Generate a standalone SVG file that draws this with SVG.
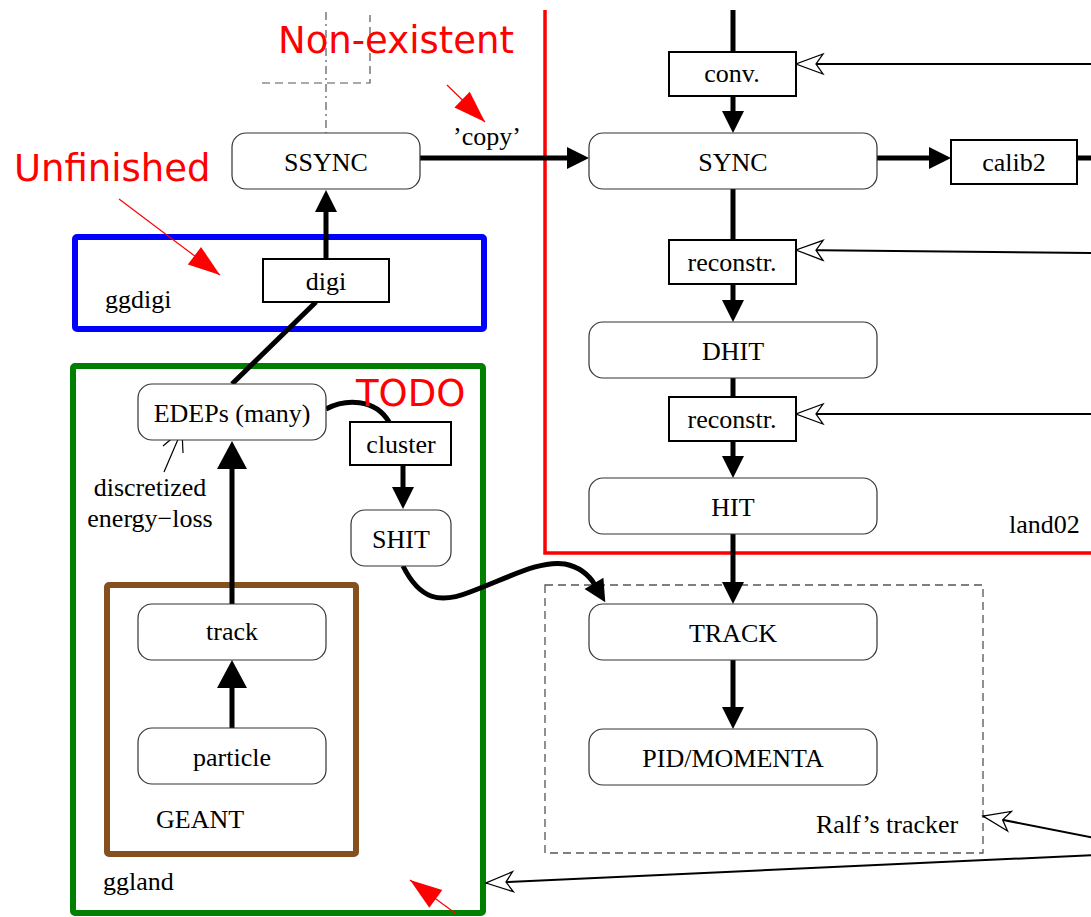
<svg xmlns="http://www.w3.org/2000/svg" width="1091" height="917" viewBox="0 0 1091 917">
<style>
.t{font-family:"Liberation Serif","Times New Roman",serif;font-size:26px;fill:#000}
.c{text-anchor:middle}
.red{font-family:"DejaVu Sans",sans-serif;font-size:37px;fill:#ff0000}
.rn{fill:#fff;stroke:#333;stroke-width:1.2}
.bx{fill:#fff;stroke:#000;stroke-width:2}
.th{fill:none;stroke:#000;stroke-width:5}
.thin{fill:none;stroke:#000;stroke-width:2}
.ra{fill:none;stroke:#ff0000;stroke-width:1.2}
</style>
<defs>
<marker id="ah" markerUnits="userSpaceOnUse" markerWidth="22" markerHeight="22" refX="2" refY="11" orient="auto" overflow="visible"><path d="M0,0 L22,11 L0,22 z" fill="#000"/></marker>
<marker id="ahb" markerUnits="userSpaceOnUse" markerWidth="28" markerHeight="30" refX="2" refY="15" orient="auto" overflow="visible"><path d="M0,0 L28,15 L0,30 z" fill="#000"/></marker>
<marker id="oa" markerUnits="userSpaceOnUse" markerWidth="28" markerHeight="22" refX="27" refY="11" orient="auto" overflow="visible"><path d="M0,1 L27,11 L0,21 L7,11 z" fill="#fff" stroke="#000" stroke-width="1.3"/></marker>
<marker id="rah" markerUnits="userSpaceOnUse" markerWidth="32" markerHeight="22" refX="32" refY="11" orient="auto" overflow="visible"><path d="M0,0 L32,11 L0,22 z" fill="#ff0000"/></marker>
</defs>

<!-- clusters -->
<g id="land02">
<path d="M545,10 V553 H1095" fill="none" stroke="#ff0000" stroke-width="3.5"/>
<text class="t" x="1009" y="533">land02</text>
</g>
<g id="ralfs-tracker">
<rect x="545" y="585" width="438" height="268" fill="none" stroke="#555" stroke-width="1.3" stroke-dasharray="8,5"/>
<text class="t" x="816" y="833">Ralf’s tracker</text>
</g>
<g id="ggdigi">
<rect x="75" y="237" width="409" height="92" rx="2" fill="none" stroke="#0000ff" stroke-width="6"/>
<text class="t" x="105" y="308">ggdigi</text>
</g>
<g id="ggland">
<rect x="73" y="366" width="410" height="547" rx="2" fill="none" stroke="#008000" stroke-width="6"/>
<text class="t" x="103" y="890">ggland</text>
</g>
<g id="geant">
<rect x="107" y="585" width="249" height="269" rx="2" fill="none" stroke="#85501e" stroke-width="6"/>
<text class="t" x="156" y="828">GEANT</text>
</g>

<!-- non-existent dashed lines -->
<g id="nonexistent-lines">
<path d="M326,12 V133" fill="none" stroke="#555" stroke-width="1.2" stroke-dasharray="8,4,2,4"/>
<path d="M262,83 H370 V15" fill="none" stroke="#555" stroke-width="1.2" stroke-dasharray="8,5"/>
</g>

<!-- connectors -->
<g id="connectors">
<path class="th" d="M733,10 V52"/>
<path class="th" d="M733,96 V113" marker-end="url(#ah)"/>
<path class="th" d="M420,158 H569" marker-end="url(#ah)"/>
<path class="th" d="M877,158 H931" marker-end="url(#ah)"/>
<path class="th" d="M1077,158 H1095"/>
<path class="th" d="M733,189 V240"/>
<path class="th" d="M733,284 V302" marker-end="url(#ah)"/>
<path class="th" d="M733,378 V397"/>
<path class="th" d="M733,441 V458" marker-end="url(#ah)"/>
<path class="th" d="M733,534 V584" marker-end="url(#ah)"/>
<path class="th" d="M733,660 V709" marker-end="url(#ah)"/>
<path class="thin" d="M1095,64 H796" marker-end="url(#oa)"/>
<path class="thin" d="M1095,253 L796,250" marker-end="url(#oa)"/>
<path class="thin" d="M1095,414 H796" marker-end="url(#oa)"/>
<path class="thin" d="M1095,838 L983,816" marker-end="url(#oa)"/>
<path class="thin" d="M1095,855 L486,883" marker-end="url(#oa)"/>
<path class="th" d="M326,258 V210" marker-end="url(#ah)"/>
<path class="th" d="M232,384 L316,302"/>
<path class="th" d="M326,409 C345,399 375,398 389,422"/>
<path class="th" d="M403,466 V489" marker-end="url(#ah)"/>
<path class="th" d="M403,566 C420,600 440,604 470,592 C510,577 540,560 565,564 C580,567 589,575 595,585" marker-end="url(#ah)"/>
<path class="th" d="M232,604 V467" marker-end="url(#ahb)"/>
<path class="th" d="M232,728 V686" marker-end="url(#ahb)"/>
<path d="M164,472 L182,430 M163,446 L182,430 L183,453" fill="none" stroke="#000" stroke-width="1.2"/>
</g>

<!-- nodes -->
<g id="conv"><rect class="bx" x="669" y="52" width="127" height="44"/><text class="t c" x="732" y="82">conv.</text></g>
<g id="SSYNC"><rect class="rn" x="232" y="133" width="188" height="56" rx="14"/><text class="t c" x="326" y="171">SSYNC</text></g>
<g id="SYNC"><rect class="rn" x="589" y="133" width="288" height="56" rx="14"/><text class="t c" x="733" y="171">SYNC</text></g>
<g id="calib2"><rect class="bx" x="951" y="140" width="126" height="44"/><text class="t c" x="1014" y="171">calib2</text></g>
<g id="reconstr1"><rect class="bx" x="669" y="240" width="127" height="44"/><text class="t c" x="732" y="271">reconstr.</text></g>
<g id="DHIT"><rect class="rn" x="589" y="322" width="288" height="56" rx="14"/><text class="t c" x="733" y="360">DHIT</text></g>
<g id="reconstr2"><rect class="bx" x="669" y="397" width="127" height="44"/><text class="t c" x="732" y="428">reconstr.</text></g>
<g id="HIT"><rect class="rn" x="589" y="478" width="288" height="56" rx="14"/><text class="t c" x="733" y="516">HIT</text></g>
<g id="TRACK"><rect class="rn" x="589" y="604" width="288" height="56" rx="14"/><text class="t c" x="733" y="642">TRACK</text></g>
<g id="PID"><rect class="rn" x="589" y="729" width="288" height="56" rx="14"/><text class="t c" x="733" y="767">PID/MOMENTA</text></g>
<g id="digi"><rect class="bx" x="263" y="259" width="126" height="43"/><text class="t c" x="326" y="290">digi</text></g>
<g id="EDEPs"><rect class="rn" x="138" y="384" width="188" height="56" rx="14"/><text class="t c" x="232" y="422">EDEPs (many)</text></g>
<g id="cluster"><rect class="bx" x="350" y="422" width="101" height="43"/><text class="t c" x="401" y="453">cluster</text></g>
<g id="SHIT"><rect class="rn" x="351" y="510" width="100" height="56" rx="14"/><text class="t c" x="401" y="548">SHIT</text></g>
<g id="track"><rect class="rn" x="138" y="604" width="188" height="56" rx="14"/><text class="t c" x="232" y="640">track</text></g>
<g id="particle"><rect class="rn" x="138" y="728" width="188" height="56" rx="14"/><text class="t c" x="232" y="766">particle</text></g>

<!-- labels -->
<g id="labels">
<text class="t c" x="487" y="145">’copy’</text>
<text class="t c" x="150" y="496">discretized</text>
<text class="t c" x="150" y="527">energy−loss</text>
</g>

<!-- red annotations -->
<g id="annotations">
<text class="red" x="278" y="53">Non-existent</text>
<text class="red" x="14" y="181">Unfinished</text>
<text class="red" x="356" y="406">TODO</text>
<path class="ra" d="M447,85 L485,122" marker-end="url(#rah)"/>
<path class="ra" d="M119,199 L220,275" marker-end="url(#rah)"/>
<path class="ra" d="M455,913 L410,880" marker-end="url(#rah)"/>
</g>
</svg>
